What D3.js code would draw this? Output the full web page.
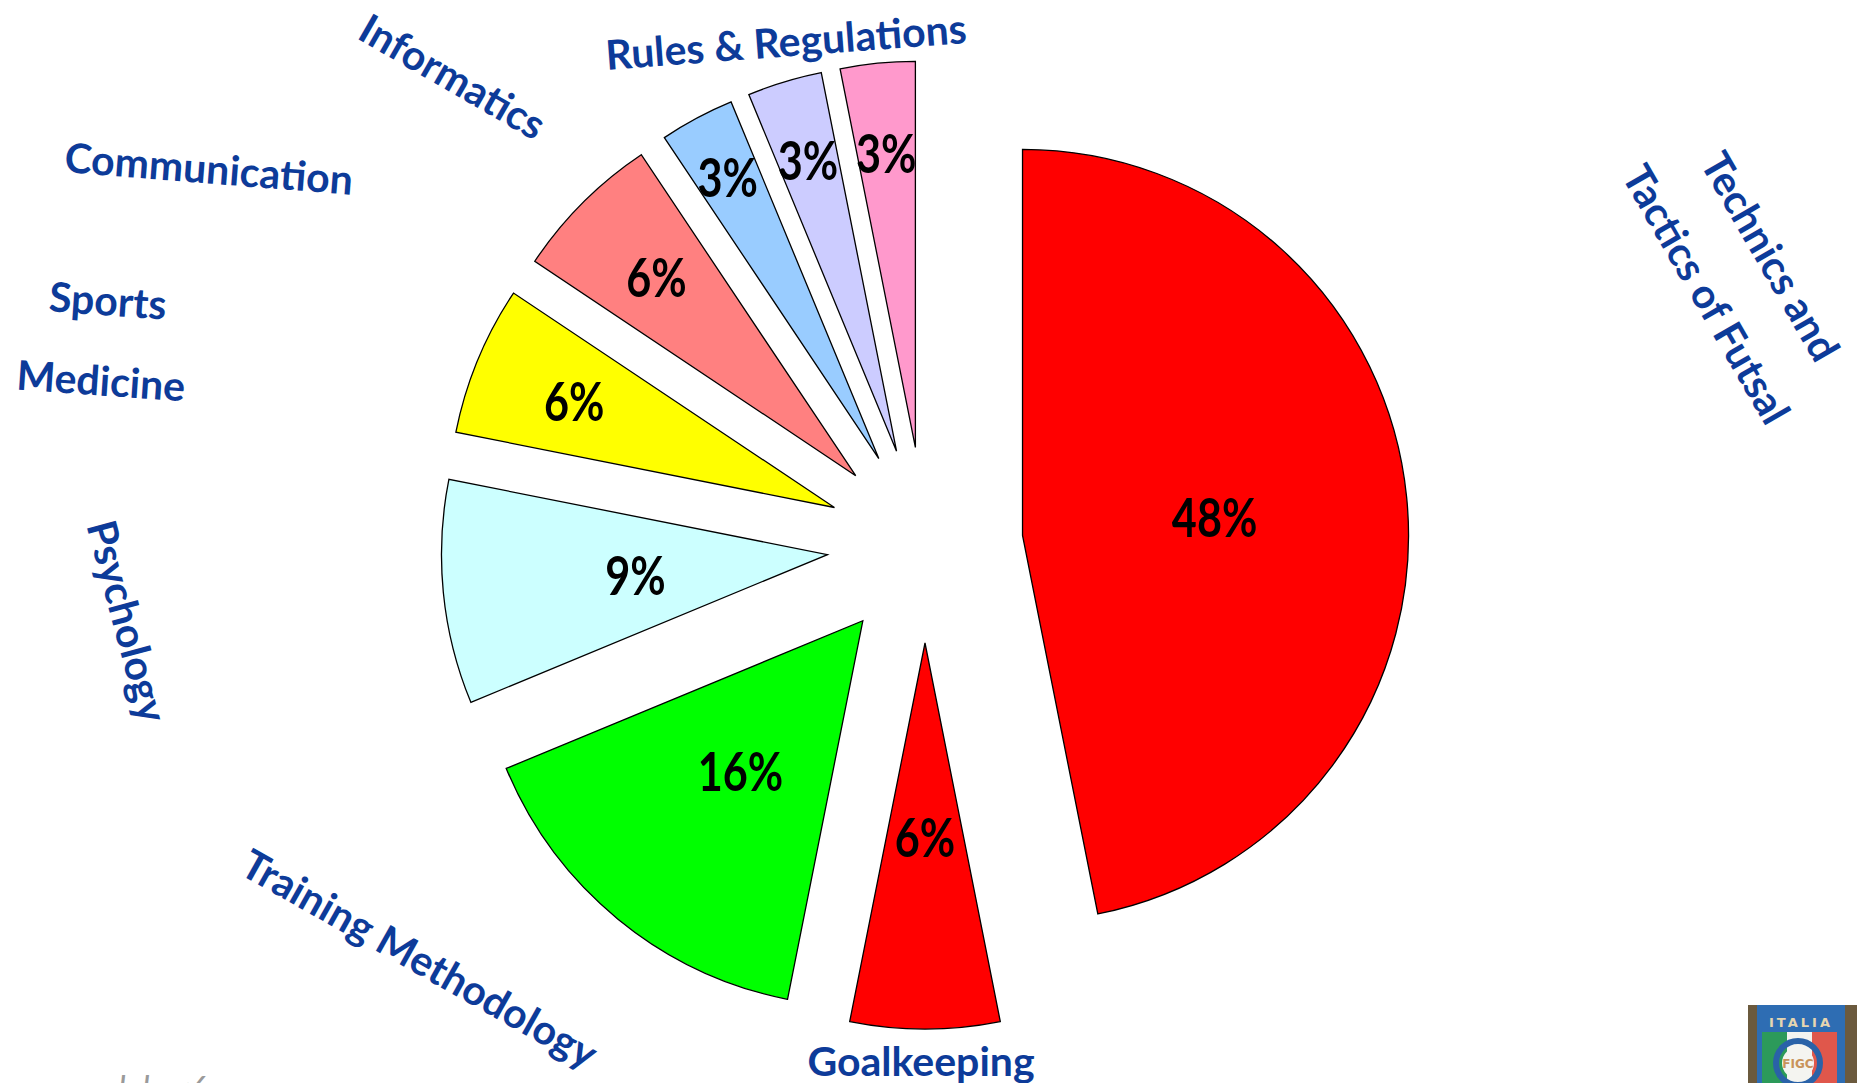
<!DOCTYPE html>
<html>
<head>
<meta charset="utf-8">
<script src="https://cdn.jsdelivr.net/npm/d3@7"></script>
<style>
  html, body { margin: 0; padding: 0; background: #fff; overflow: hidden; }
  svg { display: block; }
  .cat { font-family: Lato, "Open Sans", sans-serif; font-weight: 700; fill: #0d3b99; }
  .pct { font-family: Lato, "Open Sans", sans-serif; font-weight: 700; fill: #000; }
</style>
</head>
<body>
<div id="chart"></div>
<script>
// slices, clockwise from 12 o'clock (hours of the course)
const categories = [
  "Technics and Tactics of Futsal",
  "Goalkeeping",
  "Training Methodology",
  "Psychology",
  "Sports Medicine",
  "Communication",
  "Informatics",
  "Rules & Regulations",
  "",
];
const hours = [30, 4, 10, 6, 4, 4, 2, 2, 2];
const pctLabels = ["48%", "6%", "16%", "9%", "6%", "6%", "3%", "3%", "3%"];
const colors = ["#ff0000", "#ff0000", "#00ff00", "#ccffff", "#ffff00", "#ff8080", "#99ccff", "#ccccff", "#ff99cc"];

// how far out along the bisector the % label sits (fraction of radius)
const pctRadius = [0.5, 0.5, 0.5, 0.5, 0.73, 0.73, 0.83, 0.79, 0.77];

// category captions were placed by hand on the slide
const captions = [
  { text: "Technics and", x: 1771, y: 256, rot: 60 },
  { text: "Tactics of Futsal", x: 1707, y: 294, rot: 60 },
  { text: "Goalkeeping", x: 921, y: 1060, rot: 0 },
  { text: "Training Methodology", x: 420, y: 958, rot: 29.4 },
  { text: "Psychology", x: 128, y: 621, rot: 75 },
  { text: "Sports", x: 108, y: 300, rot: 4 },
  { text: "Medicine", x: 101, y: 380, rot: 4 },
  { text: "Communication", x: 209, y: 168, rot: 4.5 },
  { text: "Informatics", x: 453, y: 76, rot: 30 },
  { text: "Rules & Regulations", x: 786, y: 41, rot: -4.3 },
];

const width = 1857,
  height = 1083;
const cx = 925,
  cy = 545,
  radius = 386,
  explode = 98;

const svg = d3
  .select("#chart")
  .append("svg")
  .attr("width", width)
  .attr("height", height);

const pie = d3
  .pie()
  .value((d) => d)
  .sort(null);

const arc = d3.arc().innerRadius(0).outerRadius(radius);

const arcs = pie(hours);

const g = svg.append("g").attr("transform", `translate(${cx},${cy})`);

const mid = (d) => (d.startAngle + d.endAngle) / 2;

const slice = g
  .selectAll("g.slice")
  .data(arcs)
  .join("g")
  .attr("class", "slice")
  .attr("transform", (d) => {
    const a = mid(d);
    return `translate(${explode * Math.sin(a)},${-explode * Math.cos(a)})`;
  });

slice
  .append("path")
  .attr("d", arc)
  .attr("fill", (d, i) => colors[i])
  .attr("stroke", "#000")
  .attr("stroke-width", 1.3)
  .attr("stroke-linejoin", "miter");

slice
  .append("text")
  .attr("class", "pct")
  .attr("text-anchor", "middle")
  .attr("dominant-baseline", "central")
  .attr("font-size", 54)
  .attr("transform", (d, i) => {
    const a = mid(d);
    const r = radius * pctRadius[i];
    return `translate(${r * Math.sin(a)},${-r * Math.cos(a)}) scale(0.8,1)`;
  })
  .text((d, i) => pctLabels[i]);

// captions
svg
  .selectAll("text.cat")
  .data(captions)
  .join("text")
  .attr("class", "cat")
  .attr("font-size", 41)
  .attr("text-anchor", "middle")
  .attr("dominant-baseline", "central")
  .attr("transform", (d) => `translate(${d.x},${d.y}) rotate(${d.rot})`)
  .text((d) => d.text);

// faint watermark cut by the bottom edge
svg
  .append("text")
  .attr("x", 100)
  .attr("y", 1101)
  .attr("font-family", "Lato, sans-serif")
  .attr("font-style", "italic")
  .attr("font-size", 34)
  .attr("fill", "#9a9a9a")
  .text("ulebar6");

// FIGC plate, bottom right
const logo = svg.append("g").attr("transform", "translate(1748,1005)");
logo.append("rect").attr("width", 109).attr("height", 78).attr("fill", "#6b5a3e");
logo.append("rect").attr("x", 9).attr("y", 0).attr("width", 88).attr("height", 78).attr("fill", "#2e6db3");
logo
  .append("text")
  .attr("x", 53)
  .attr("y", 22)
  .attr("text-anchor", "middle")
  .attr("font-family", "DejaVu Sans, sans-serif")
  .attr("font-weight", 700)
  .attr("font-size", 13)
  .attr("letter-spacing", 3)
  .attr("fill", "#e6d6b0")
  .text("ITALIA");
const stripes = ["#2c9a5a", "#f4f4f0", "#e0574b"];
stripes.forEach((c, i) => {
  logo
    .append("rect")
    .attr("x", 14 + i * 25)
    .attr("y", 27)
    .attr("width", 25)
    .attr("height", 51)
    .attr("fill", c);
});
logo.append("circle").attr("cx", 50).attr("cy", 58).attr("r", 22).attr("fill", "none").attr("stroke", "#2a62a8").attr("stroke-width", 6);
logo.append("circle").attr("cx", 50).attr("cy", 58).attr("r", 16).attr("fill", "#f4f4f0");
logo
  .append("text")
  .attr("x", 50)
  .attr("y", 63)
  .attr("text-anchor", "middle")
  .attr("font-family", "DejaVu Sans, sans-serif")
  .attr("font-weight", 700)
  .attr("font-size", 12)
  .attr("fill", "#c9935a")
  .text("FIGC");
</script>
</body>
</html>
